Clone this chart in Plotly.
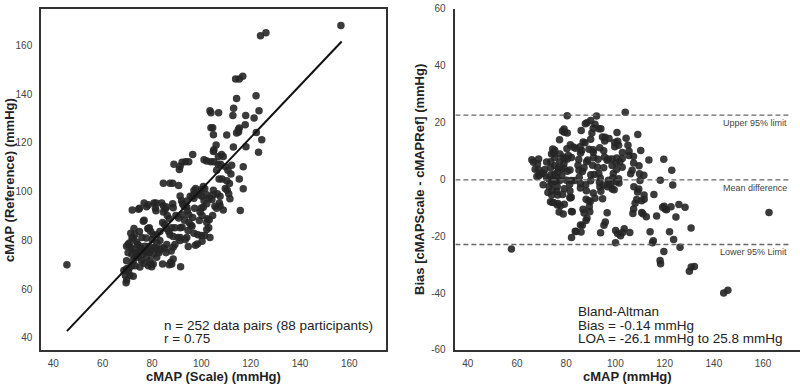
import numpy as np
import plotly.graph_objects as go

# ---- data (cMAP scale vs reference, mmHg) ----
scale_map = [
    45.5, 156.6, 124.0, 126.2, 113.9, 115.4, 116.8, 114.3, 122.2, 103.5,
    103.9, 107.0, 113.1, 112.8, 118.0, 121.4, 123.4, 117.8, 115.0, 115.1,
    115.4, 114.3, 103.9, 104.6, 104.9, 110.3, 122.3, 124.5, 106.0, 113.0,
    118.1, 105.1, 104.9, 123.2, 106.9, 108.2, 108.9, 96.5, 101.1, 102.2,
    103.8, 105.1, 106.8, 107.8, 112.3, 117.0, 88.9, 92.2, 93.6, 94.9,
    91.4, 91.1, 109.8, 110.8, 112.0, 106.2, 107.2, 108.4, 110.3, 111.4,
    115.4, 84.6, 87.3, 88.4, 90.8, 100.8, 101.4, 100.0, 97.7, 97.0,
    97.3, 104.9, 106.5, 107.6, 109.7, 110.5, 111.1, 117.0, 104.3, 104.9,
    102.2, 103.2, 99.2, 100.2, 95.5, 96.4, 97.0, 94.1, 92.0, 91.4,
    101.1, 102.2, 100.0, 100.8, 107.3, 107.6, 105.5, 106.2, 111.6, 108.9,
    115.8, 94.1, 94.3, 97.3, 92.4, 93.0, 88.6, 88.4, 84.6, 85.4,
    85.9, 83.9, 81.6, 80.8, 78.5, 76.8, 77.8, 74.9, 72.0, 81.4,
    81.6, 84.6, 86.2, 87.0, 89.7, 90.8, 92.2, 94.9, 96.5, 99.5,
    100.3, 102.4, 103.2, 102.2, 104.6, 99.2, 93.2, 95.0, 95.8, 92.2,
    91.4, 89.3, 88.0, 86.8, 87.3, 84.3, 85.1, 85.7, 83.2, 81.9,
    76.5, 78.4, 78.9, 79.5, 94.6, 96.2, 97.0, 98.6, 100.0, 101.4,
    103.5, 100.3, 98.4, 97.6, 102.2, 103.0, 94.1, 93.5, 94.7, 90.5,
    88.6, 91.4, 91.4, 89.3, 88.6, 87.8, 86.0, 85.1, 85.7, 83.2,
    81.9, 88.6, 87.6, 88.0, 87.0, 84.3, 91.6, 82.7, 80.5, 81.9,
    79.2, 79.5, 78.5, 79.9, 80.5, 71.4, 73.0, 72.4, 73.8, 74.1,
    75.1, 75.8, 76.5, 77.8, 78.9, 79.9, 81.1, 81.9, 83.2, 84.1,
    77.2, 74.9, 74.1, 73.1, 72.4, 71.8, 70.8, 69.7, 68.6, 69.2,
    69.7, 69.5, 70.5, 71.1, 72.4, 71.8, 70.3, 69.7, 71.4, 72.4,
    73.5, 74.6, 75.8, 76.8, 76.2, 77.8, 78.9, 80.0, 80.5, 78.4,
    77.6, 75.9, 74.9, 72.7, 71.9, 70.8, 70.3, 69.7, 75.1, 73.1,
    76.8, 74.6,
]
ref_map = [
    70.0, 168.2, 164.0, 165.2, 146.2, 146.2, 147.4, 138.2, 139.3, 133.2,
    132.4, 132.4, 134.2, 131.2, 131.2, 130.2, 133.2, 127.4, 125.4, 124.5,
    126.1, 124.1, 126.2, 126.2, 123.3, 123.2, 124.3, 121.3, 119.1, 118.3,
    118.4, 117.2, 116.5, 116.1, 114.4, 115.2, 114.4, 115.2, 113.1, 112.6,
    112.2, 112.2, 111.2, 111.2, 110.8, 110.2, 111.2, 112.0, 112.3, 112.3,
    110.4, 109.1, 110.2, 108.8, 107.2, 108.8, 105.2, 105.2, 104.5, 103.3,
    105.2, 103.4, 103.4, 103.4, 102.5, 102.1, 101.2, 100.8, 101.3, 100.4,
    99.1, 100.6, 99.1, 98.1, 101.3, 100.6, 99.1, 101.2, 96.8, 98.7,
    98.7, 97.4, 98.7, 98.1, 98.1, 98.1, 97.3, 96.1, 96.2, 98.2,
    96.2, 95.0, 93.3, 93.6, 95.3, 94.2, 94.0, 93.2, 97.1, 92.4,
    92.2, 93.6, 92.2, 93.2, 95.0, 94.0, 93.4, 95.0, 94.2, 92.9,
    93.7, 95.3, 95.3, 95.3, 94.6, 95.3, 93.8, 93.2, 92.4, 93.2,
    92.1, 91.6, 90.2, 88.9, 90.2, 89.2, 90.5, 90.5, 89.4, 91.6,
    90.2, 88.9, 88.4, 87.3, 90.2, 88.1, 88.2, 87.3, 86.2, 85.4,
    85.2, 85.2, 85.2, 83.6, 82.3, 87.3, 86.5, 84.9, 83.6, 82.3,
    87.8, 84.9, 85.2, 83.6, 84.0, 85.8, 82.9, 82.3, 82.0, 82.0,
    81.2, 79.6, 78.5, 78.0, 84.4, 85.2, 81.2, 80.3, 77.5, 81.2,
    81.6, 81.2, 79.9, 78.3, 77.2, 75.6, 78.3, 76.7, 74.9, 79.9,
    79.0, 72.3, 71.0, 70.3, 70.0, 70.3, 69.2, 74.8, 74.3, 73.0,
    71.6, 70.3, 69.6, 69.2, 70.3, 82.9, 82.3, 80.9, 79.3, 78.3,
    77.6, 76.3, 75.6, 75.3, 74.9, 76.3, 77.2, 76.3, 75.9, 76.9,
    77.6, 75.6, 74.0, 73.0, 71.6, 69.6, 68.7, 68.3, 67.6, 65.6,
    63.7, 62.6, 67.0, 65.6, 65.2, 74.3, 78.3, 77.6, 76.9, 76.3,
    74.9, 73.0, 71.6, 70.6, 74.3, 73.0, 77.6, 80.3, 82.3, 84.7,
    80.9, 81.2, 83.6, 84.9, 80.9, 78.9, 74.9, 71.6, 69.0, 69.6,
    88.2, 92.8,
]

# fitted line end points
fit_x = [45.5, 156.9]
fit_y = [42.7, 161.6]

# Bland-Altman reference lines (mmHg)
ba_upper = 22.6
ba_mean = -0.14
ba_lower = -22.9
ba_line_end = 170.5

x_ticks = [40, 60, 80, 100, 120, 140, 160]
y1_ticks = [40, 60, 80, 100, 120, 140, 160]
y2_ticks = [-60, -40, -20, 0, 20, 40, 60]
y2_ticktext = ["-60", "-40", "-20", "0", "20", "40", "60"]

S = np.array(scale_map)
R = np.array(ref_map)
ba_x = (S + R) / 2.0
ba_y = S - R

FONT = "Liberation Sans, Arial, sans-serif"
MARK = dict(size=7.5, color="#262626", opacity=0.9, line=dict(width=0))

fig = go.Figure()
fig.add_trace(go.Scatter(x=S, y=R, mode="markers", marker=MARK,
                         xaxis="x", yaxis="y", showlegend=False))
fig.add_trace(go.Scatter(x=fit_x, y=fit_y, mode="lines",
                         line=dict(color="#111111", width=2),
                         xaxis="x", yaxis="y", showlegend=False))
fig.add_trace(go.Scatter(x=ba_x, y=ba_y, mode="markers", marker=MARK,
                         xaxis="x2", yaxis="y2", showlegend=False))

for val in (ba_upper, ba_mean, ba_lower):
    fig.add_shape(type="line", xref="x2", yref="y2", x0=35, x1=ba_line_end,
                  y0=val, y1=val,
                  line=dict(color="#666666", width=1.3, dash="5px,3px"))

axis_common = dict(showgrid=False, zeroline=False, linecolor="#333333",
                   linewidth=1.5, ticks="", showline=True,
                   ticklabeloverflow="allow",
                   tickfont=dict(family=FONT, size=10, color="#444444"))

Y0, Y1 = 33 / 388, 384 / 388
fig.update_layout(
    width=800, height=388,
    margin=dict(l=0, r=0, t=0, b=0),
    paper_bgcolor="white", plot_bgcolor="white",
    xaxis=dict(domain=[41 / 800, 386.3 / 800], range=[35, 175],
               tickvals=x_ticks, mirror=True, anchor="y",
               ticklabelstandoff=3, **axis_common),
    yaxis=dict(domain=[Y0, Y1], range=[35, 175], tickvals=y1_ticks,
               mirror=True, anchor="x", ticklabelstandoff=5, **axis_common),
    xaxis2=dict(domain=[455.4 / 800, 1.0], range=[35, 175],
                tickvals=x_ticks, anchor="y2", ticklabelstandoff=3,
                **axis_common),
    yaxis2=dict(domain=[Y0, Y1], range=[-60, 60], tickvals=y2_ticks,
                ticktext=y2_ticktext, anchor="x2", ticklabelstandoff=6,
                **axis_common),
)

ann = []
title_font = dict(family=FONT, size=13, color="#222222")
ann.append(dict(text="<b>cMAP (Scale) (mmHg)</b>", x=213 / 800, y=(388 - 382) / 388,
                xref="paper", yref="paper", showarrow=False, font=title_font,
                xanchor="center", yanchor="middle"))
ann.append(dict(text="<b>cMAP (Reference) (mmHg)</b>", x=10 / 800, y=(388 - 180) / 388,
                xref="paper", yref="paper", showarrow=False, font=title_font,
                textangle=-90, xanchor="center", yanchor="middle"))
ann.append(dict(text="<b>cMAP (mmHg)</b>", x=627 / 800, y=(388 - 382) / 388,
                xref="paper", yref="paper", showarrow=False, font=title_font,
                xanchor="center", yanchor="middle"))
ann.append(dict(text="<b>Bias [cMAPScale - cMAPRef] (mmHg)</b>", x=420 / 800,
                y=(388 - 180) / 388, xref="paper", yref="paper", showarrow=False,
                font=title_font, textangle=-90, xanchor="center", yanchor="middle"))

body_font = dict(family=FONT, size=13.5, color="#222222")
for txt, yy in (("n = 252 data pairs (88 participants)", 330), ("r = 0.75", 343.5)):
    ann.append(dict(text=txt, x=162 / 800, y=(388 - yy) / 388, xref="paper",
                    yref="paper", showarrow=False, font=body_font,
                    xanchor="left", yanchor="middle"))
for txt, yy in (("Bland-Altman", 315.5), ("Bias = -0.14 mmHg", 329.5),
                ("LOA = -26.1 mmHg to 25.8 mmHg", 343.5)):
    ann.append(dict(text=txt, x=575.5 / 800, y=(388 - yy) / 388, xref="paper",
                    yref="paper", showarrow=False, font=body_font,
                    xanchor="left", yanchor="middle"))

small_font = dict(family=FONT, size=9, color="#444444")
for txt, val in (("Upper 95% limit", ba_upper), ("Mean difference", ba_mean),
                 ("Lower 95% Limit", ba_lower)):
    ann.append(dict(text=txt, x=ba_line_end, y=val, xref="x2", yref="y2",
                    showarrow=False, font=small_font, xanchor="right",
                    yanchor="top", yshift=-1))

fig.update_layout(annotations=ann)
fig.write_html("out.html",
               config={"displayModeBar": False},
               post_script="document.body.style.margin='0';"
                           "document.body.style.overflow='hidden';")
